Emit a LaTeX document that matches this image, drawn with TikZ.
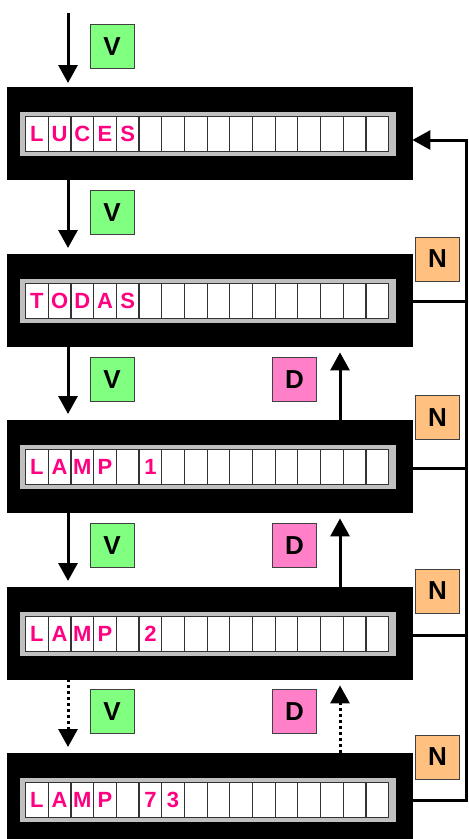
\documentclass[tikz,border=0pt]{standalone}
\usepackage{fontspec}
\setmainfont{Liberation Sans}
\usetikzlibrary{arrows.meta}
\definecolor{vgreen}{HTML}{80FF80}
\definecolor{dpink}{HTML}{FF80C8}
\definecolor{norange}{HTML}{FFC080}
\definecolor{lcdtext}{HTML}{FF0080}
\definecolor{bargray}{HTML}{C0C0C0}
\tikzset{
 panelbox/.style={fill=black, draw=black, minimum width=405pt, minimum height=92pt, inner sep=0pt, anchor=north west},
 barbox/.style={fill=bargray, draw=none, minimum width=376pt, minimum height=44pt, inner sep=0pt, anchor=north west},
 cellbox/.style={fill=white, draw=black!80, line width=1.2pt, minimum width=22.69pt, minimum height=35pt, inner sep=0pt, anchor=north west},
 lcdchar/.style={text=lcdtext, inner sep=0pt, font=\fontsize{22}{22}\selectfont\bfseries},
 keybox/.style={draw=black!75, line width=1pt, minimum size=44pt, inner sep=0pt, font=\fontsize{26}{26}\selectfont\bfseries},
 flow/.style={line width=3pt, -{Triangle[length=18pt,width=19pt]}},
 flowdot/.style={flow, dash pattern=on 3pt off 3pt},
 loopline/.style={line width=3pt},
}
\newcommand\lcdpanel[3]{%
 \node[panelbox] (#1) at (7,#2) {};
 \node[barbox] (#1bar) at (20,#2+25) {};
 \foreach \i in {0,...,15} {\node[cellbox] (#1c\i) at (25+\i*22.69,#2+29) {};}
 \foreach \ch/\i in {#3} {\node[lcdchar] (#1t\i) at (#1c\i) {\ch};}
}
\begin{document}
\begin{tikzpicture}[x=1pt,y=-1pt]
\clip (0,0) rectangle (469,839);
\fill[white] (0,0) rectangle (469,839);
\lcdpanel{p1}{87}{L/0,U/1,C/2,E/3,S/4}
\lcdpanel{p2}{254}{T/0,O/1,D/2,A/3,S/4}
\lcdpanel{p3}{420}{L/0,A/1,M/2,P/3,1/5}
\lcdpanel{p4}{587}{L/0,A/1,M/2,P/3,2/5}
\lcdpanel{p5}{753}{L/0,A/1,M/2,P/3,7/5,3/6}
% key boxes
\node[keybox, fill=vgreen] (v0) at (112,46.5) {V};
\node[keybox, fill=vgreen] (v1) at (112,212.5) {V};
\node[keybox, fill=vgreen] (v2) at (112,379.5) {V};
\node[keybox, fill=vgreen] (v3) at (112,545.5) {V};
\node[keybox, fill=vgreen] (v4) at (112,711.5) {V};
\node[keybox, fill=dpink] (d2) at (294.5,379.5) {D};
\node[keybox, fill=dpink] (d3) at (294.5,545.5) {D};
\node[keybox, fill=dpink] (d4) at (294.5,711.5) {D};
\node[keybox, fill=norange] (n2) at (437.5,259) {N};
\node[keybox, fill=norange] (n3) at (437.5,417.5) {N};
\node[keybox, fill=norange] (n4) at (437.5,591) {N};
\node[keybox, fill=norange] (n5) at (437.5,757) {N};
% coordinates
\coordinate (start) at (68,13);
\coordinate (up) at (340,0);
\coordinate (r1) at (466,140);
\coordinate (r2) at (466,301);
\coordinate (r3) at (466,468);
\coordinate (r4) at (466,635);
\coordinate (r5) at (466,800);
% down flows
\draw[flow, shorten >=4pt] (start) -- (start |- p1.north);
\draw[flow, shorten >=6pt] (p1.south -| start) -- (p2.north -| start);
\draw[flow, shorten >=6pt] (p2.south -| start) -- (p3.north -| start);
\draw[flow, shorten >=6pt] (p3.south -| start) -- (p4.north -| start);
\draw[flowdot, shorten >=6pt] (p4.south -| start) -- (p5.north -| start);
% up flows
\draw[flow, shorten >=6pt] (p3.north -| up) -- (p2.south -| up);
\draw[flow, shorten >=6pt] (p4.north -| up) -- (p3.south -| up);
\draw[flowdot, shorten >=6pt] (p5.north -| up) -- (p4.south -| up);
% return loop
\draw[loopline] (p5.east |- r5) -- (r5) -- (r4);
\draw[loopline] (p4.east |- r4) -- (r4) -- (r3);
\draw[loopline] (p3.east |- r3) -- (r3) -- (r2);
\draw[flow] (p2.east |- r2) -- (r2) -- (r1) -- (p1.east |- r1);
\end{tikzpicture}
\end{document}
